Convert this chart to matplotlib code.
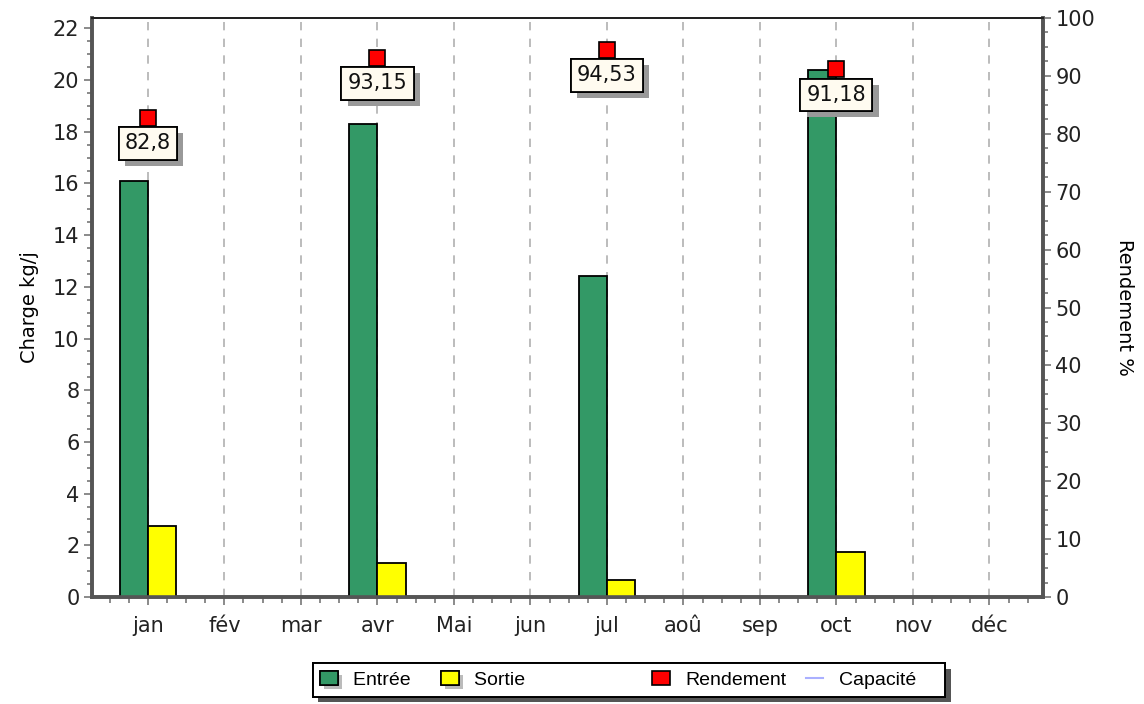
import matplotlib
matplotlib.use("Agg")
import matplotlib.pyplot as plt
from matplotlib import patheffects
from matplotlib.lines import Line2D
from matplotlib.patches import Patch
from matplotlib.ticker import MultipleLocator
import numpy as np

months = ["jan", "fév", "mar", "avr", "Mai", "jun", "jul", "aoû", "sep", "oct", "nov", "déc"]
entree = [16.1, 0, 0, 18.3, 0, 0, 12.4, 0, 0, 20.4, 0, 0]
sortie = [2.75, 0, 0, 1.3, 0, 0, 0.65, 0, 0, 1.75, 0, 0]
rend_months = [0, 3, 6, 9]
rendement = [82.8, 93.15, 94.53, 91.18]
rend_labels = ["82,8", "93,15", "94,53", "91,18"]

GREEN = "#339966"
YELLOW = "#ffff00"
RED = "#ff0000"
AXIS_GREY = "#555555"

fig = plt.figure(figsize=(11.44, 7.04), dpi=100)
ax = fig.add_axes([92 / 1144, 107 / 704, 951 / 1144, 579 / 704])
ax2 = ax.twinx()

x = np.arange(len(months))
w = 0.37
nonzero = [i for i, v in enumerate(entree) if v > 0]
ax.bar(x[nonzero] - w / 2, [entree[i] for i in nonzero], w, color=GREEN,
       edgecolor="black", linewidth=1.3, zorder=3)
ax.bar(x[nonzero] + w / 2, [sortie[i] for i in nonzero], w, color=YELLOW,
       edgecolor="black", linewidth=1.3, zorder=3)

ax.set_xlim(-0.73, 11.7)
ax.set_ylim(0, 22.4)
ax2.set_ylim(0, 100)

ax.set_xticks(x)
ax.set_xticklabels(months)
ax.xaxis.set_minor_locator(MultipleLocator(0.25))
ax.yaxis.set_major_locator(MultipleLocator(2))
ax.yaxis.set_minor_locator(MultipleLocator(0.5))
ax2.yaxis.set_major_locator(MultipleLocator(10))
ax2.yaxis.set_minor_locator(MultipleLocator(2.5))

ax.grid(axis="x", which="major", color="#b0b0b0", linestyle=(0, (5, 5)), linewidth=1.2, zorder=0)

for a in (ax, ax2):
    a.tick_params(which="major", length=6, width=1.2, color="#777777", labelsize=15,
                  labelcolor="#222222", pad=3)
    a.tick_params(which="minor", length=3.5, width=1.2, color="#777777")
    for side in ("left", "bottom", "right"):
        a.spines[side].set_color(AXIS_GREY)
        a.spines[side].set_linewidth(2.6)
    a.spines["top"].set_color("#222222")
    a.spines["top"].set_linewidth(1.4)
ax.tick_params(axis="x", which="major", pad=8)
ax.tick_params(axis="x", which="minor", length=4)

ax.set_ylabel("Charge kg/j", fontsize=14, labelpad=10)
ax2.set_ylabel("Rendement %", fontsize=14, rotation=-90, labelpad=28)

ax2.plot(rend_months, rendement, linestyle="none", marker="s", markersize=12,
         markerfacecolor=RED, markeredgecolor="black", markeredgewidth=1.2, zorder=5)
for xm, val, lab in zip(rend_months, rendement, rend_labels):
    t = ax2.annotate(lab, (xm, val), xytext=(0, -18.5), textcoords="offset points",
                     ha="center", va="center", fontsize=15, color="#111111",
                     bbox=dict(boxstyle="square,pad=0.3", facecolor="#fffbf0",
                               edgecolor="black", linewidth=1.3), zorder=6)
    t.get_bbox_patch().set_path_effects([
        patheffects.withSimplePatchShadow(offset=(4.5, -4.5), shadow_rgbFace="#999999", alpha=1.0),
        patheffects.Normal()])

shadow = [patheffects.withSimplePatchShadow(offset=(3, -3), shadow_rgbFace="#bbbbbb", alpha=1.0),
          patheffects.Normal()]
h_entree = Patch(facecolor=GREEN, edgecolor="black", linewidth=1.2)
h_entree.set_path_effects(shadow)
h_sortie = Patch(facecolor=YELLOW, edgecolor="black", linewidth=1.2)
h_sortie.set_path_effects(shadow)
h_rend = Patch(facecolor=RED, edgecolor="black", linewidth=1.2)
h_cap = Line2D([], [], color="#aab0ff", linewidth=1.5)

leg = fig.legend([h_entree, h_sortie, h_rend, h_cap],
                 ["Entrée  ", "Sortie" + " " * 20, "Rendement", "Capacité    "],
                 loc="center", bbox_to_anchor=(629 / 1144, 1 - 680 / 704), ncol=4,
                 frameon=True, fancybox=False, shadow=False, framealpha=1.0,
                 facecolor="white", handlelength=0.9, handleheight=0.75,
                 handletextpad=0.8, columnspacing=1.0, borderpad=0.4,
                 prop={"family": "Liberation Sans", "size": 14})
frame = leg.get_frame()
frame.set_edgecolor("black")
frame.set_linewidth(1.4)
frame.set_path_effects([
    patheffects.withSimplePatchShadow(offset=(4, -4), shadow_rgbFace="#555555", alpha=1.0),
    patheffects.Normal()])

fig.savefig("out.png", dpi=100)
